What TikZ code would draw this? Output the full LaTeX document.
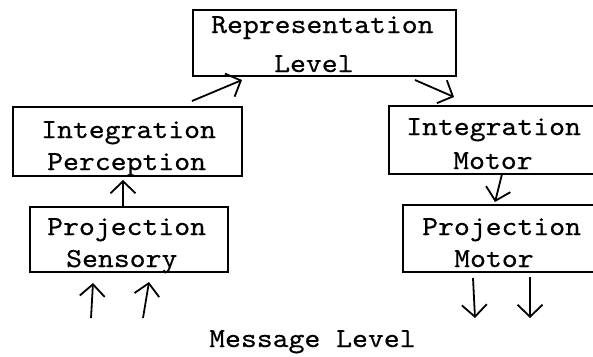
\documentclass[tikz,border=0pt]{standalone}
\usepackage{fontspec}
\newfontfamily\tw{lmmono10-regular.otf}[FakeStretch=1.1,FakeBold=0.5]
\usetikzlibrary{arrows.meta,calc}
\begin{document}
\begin{tikzpicture}[x=1pt,y=-1pt,
  box/.style={draw, line width=1.8pt, inner sep=0pt, outer sep=0pt},
  txt/.style={anchor=base west, inner sep=0pt, font=\tw\fontsize{27.5}{32}\selectfont},
  arr/.style={line width=1.8pt, -{Straight Barb[length=12pt,width=25pt,line width=1.8pt]}}]
\path[use as bounding box] (0,0) rectangle (593,356);
\clip (0,0) rectangle (593,356);
% boxes
\node[box, minimum width=263pt, minimum height=66pt] (rep) at (324.5,43) {};
\node[box, minimum width=229pt, minimum height=69pt] (ip) at (127.5,141.5) {};
\node[box, minimum width=198pt, minimum height=65pt] (ps) at (129,239.5) {};
\node[box, minimum width=212pt, minimum height=68pt] (im) at (495,140) {};
\node[box, minimum width=200pt, minimum height=67pt] (pm) at (503,238.5) {};
% texts
\node[txt] (rep1) at (211,33) {Representation};
\node[txt] (rep2) at (274,72) {Level};
\node[txt] (ip1) at (41,138) {Integration};
\node[txt] (ip2) at (47,170) {Perception};
\node[txt] (ps1) at (47,235) {Projection};
\node[txt] (ps2) at (66,267) {Sensory};
\node[txt] (im1) at (406,135) {Integration};
\node[txt] (im2) at (453,169) {Motor};
\node[txt] (pm1) at (422,235) {Projection};
\node[txt] (pm2) at (454,267) {Motor};
\node[txt] (msg) at (209,347) {Message Level};
% free ends
\coordinate (s1) at (91,318);
\coordinate (s2) at (143,318);
\coordinate (m1) at (475,318);
\coordinate (m2) at (530,318);
% connectors
\draw[arr] ($(ip.north)+(64.5,-6)$) -- ($(rep.south)+(-82.5,4)$);
\draw[arr] ($(rep.south)+(90.5,4)$) -- ($(im.north)+(-41,-9)$);
\draw[arr] ($(ps.north)+(-6,0)$) -- ($(ip.south)+(-4.5,4)$);
\draw[arr] ($(im.south)+(7,0)$) -- ($(pm.north)+(-8,-3)$);
\draw[arr] (s1) -- ($(ps.south)+(-36,11)$);
\draw[arr] (s2) -- ($(ps.south)+(20,10)$);
\draw[arr] ($(pm.south)+(-30,6)$) -- (m1);
\draw[arr] ($(pm.south)+(27,5)$) -- (m2);
\end{tikzpicture}
\end{document}
